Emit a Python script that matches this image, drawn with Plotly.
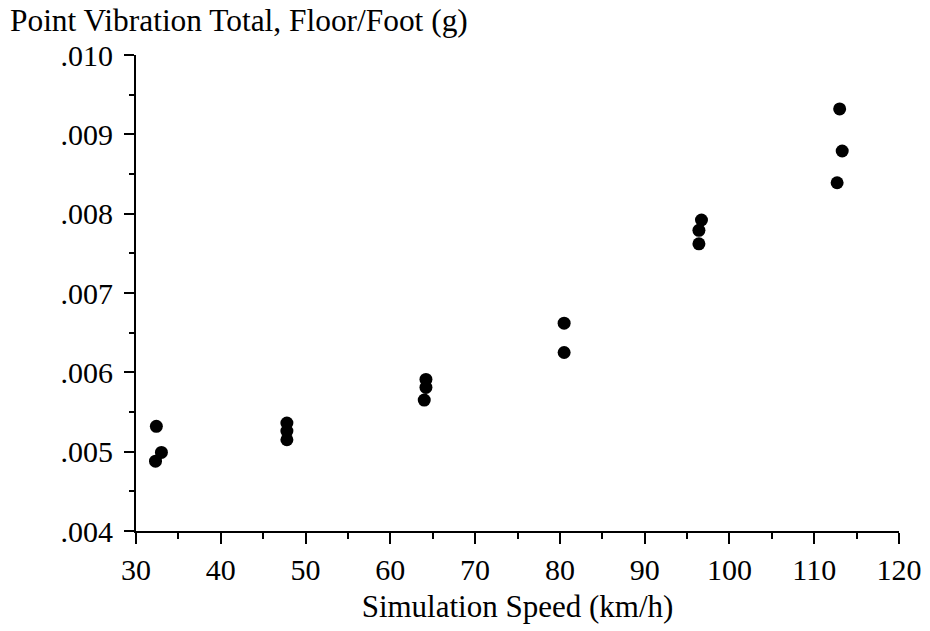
import plotly.graph_objects as go

speed = [32.4, 32.3, 33.0, 47.8, 47.8, 47.8, 64.2, 64.2, 64.0, 80.5, 80.5,
         96.7, 96.4, 96.4, 113.0, 113.3, 112.7]
vibration = [0.00532, 0.00488, 0.00499, 0.00536, 0.00526, 0.00515,
             0.00591, 0.00581, 0.00565, 0.00662, 0.00625,
             0.00792, 0.00779, 0.00762, 0.00932, 0.00879, 0.00839]

x_ticks = [30, 40, 50, 60, 70, 80, 90, 100, 110, 120]
y_ticks = [0.004, 0.005, 0.006, 0.007, 0.008, 0.009, 0.010]
y_tick_text = [".004", ".005", ".006", ".007", ".008", ".009", ".010"]

FONT = "Liberation Serif"

fig = go.Figure()
fig.add_trace(go.Scatter(
    x=speed, y=vibration, mode="markers",
    marker=dict(color="black", size=13, line=dict(width=0)),
    showlegend=False, cliponaxis=False,
))

fig.update_layout(
    width=930, height=631,
    margin=dict(l=136, r=31, t=55, b=100, autoexpand=False),
    paper_bgcolor="white", plot_bgcolor="white",
    font=dict(family=FONT, size=30, color="black"),
    annotations=[dict(
        text="Point Vibration Total, Floor/Foot (g)",
        xref="paper", yref="paper", x=-0.1675, y=1, xanchor="left",
        yanchor="middle", yshift=35, showarrow=False,
        font=dict(family=FONT, size=31.4, color="black"),
    )],
)

fig.update_xaxes(
    range=[30, 120], tickvals=x_ticks, ticktext=[str(v) for v in x_ticks],
    automargin=False,
    showgrid=False, zeroline=False, showline=True, linecolor="black", linewidth=2,
    ticks="outside", ticklen=11, tickwidth=2, tickcolor="black",
    minor=dict(ticks="outside", ticklen=6, tickwidth=2, tickcolor="black", dtick=5, tick0=30),
    title=dict(text="Simulation Speed (km/h)", standoff=10,
               font=dict(family=FONT, size=31, color="black")),
    tickfont=dict(family=FONT, size=30, color="black"),
)
fig.update_yaxes(
    range=[0.004, 0.010], tickvals=y_ticks, ticktext=y_tick_text,
    automargin=False,
    showgrid=False, zeroline=False, showline=True, linecolor="black", linewidth=2,
    ticks="outside", ticklen=10, tickwidth=2, tickcolor="black",
    minor=dict(ticks="outside", ticklen=5, tickwidth=2, tickcolor="black", dtick=0.0005, tick0=0.004),
    tickfont=dict(family=FONT, size=30, color="black"),
    ticklabelstandoff=5,
)

fig.write_html("out.html")
